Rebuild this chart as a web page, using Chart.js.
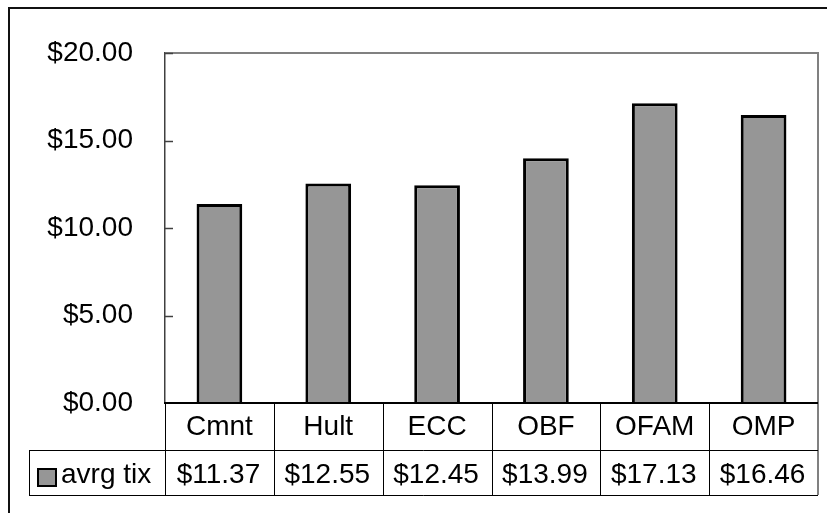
<!DOCTYPE html>
<html>
<head>
<meta charset="utf-8">
<script src="https://cdn.jsdelivr.net/npm/chart.js@4.4.1/dist/chart.umd.min.js"></script>
<style>
  html, body { margin: 0; padding: 0; background: #fff; }
  #wrap { width: 827px; height: 513px; }
</style>
</head>
<body>
<div id="wrap"><canvas id="c" width="827" height="513"></canvas></div>
<script>
const categories = ['Cmnt', 'Hult', 'ECC', 'OBF', 'OFAM', 'OMP'];
const seriesName = 'avrg tix';
const avrgTix = [11.37, 12.55, 12.45, 13.99, 17.13, 16.46];
const yTicks = [0, 5, 10, 15, 20];

const FONT = 'Liberation Sans, Arial, sans-serif';
const FSIZE = 28;
const money = v => '$' + Number(v).toFixed(2);

const frame = {
  id: 'frame',
  beforeDraw(chart) {
    const ctx = chart.ctx;
    ctx.save();
    ctx.fillStyle = '#fff';
    ctx.fillRect(0, 0, chart.width, chart.height);
    ctx.strokeStyle = '#111';
    ctx.lineWidth = 2;
    ctx.beginPath();
    ctx.moveTo(9, chart.height);
    ctx.lineTo(9, 8);
    ctx.lineTo(chart.width, 8);
    ctx.stroke();
    ctx.restore();
  },
  afterDraw(chart) {
    const ctx = chart.ctx;
    const a = chart.chartArea;
    const xs = chart.scales.x, ys = chart.scales.y;
    const n = categories.length;
    const colW = (a.right - a.left) / n;
    const rowTop = a.bottom;
    const rowMid = rowTop + 47;
    const rowBot = rowTop + 92;
    ctx.save();
    // plot border top/right
    ctx.strokeStyle = '#808080';
    ctx.lineWidth = 2;
    ctx.beginPath();
    ctx.moveTo(a.left, a.top);
    ctx.lineTo(a.right, a.top);
    ctx.lineTo(a.right, rowBot);
    ctx.stroke();
    // inside ticks on y axis
    ctx.strokeStyle = '#404040';
    ctx.lineWidth = 1.5;
    ys.ticks.forEach(t => {
      const py = Math.round(ys.getPixelForValue(t.value)) + 0.5;
      if (t.value === 0) return;
      ctx.beginPath();
      ctx.moveTo(a.left, py);
      ctx.lineTo(a.left + 8, py);
      ctx.stroke();
    });
    // data table grid
    ctx.strokeStyle = '#000';
    ctx.lineWidth = 1;
    ctx.beginPath();
    for (let i = 0; i < n; i++) {
      const bx = Math.round(a.left + i * colW) + 0.5;
      ctx.moveTo(bx, rowTop);
      ctx.lineTo(bx, rowBot);
    }
    ctx.moveTo(29.5, rowMid + 0.5);
    ctx.lineTo(a.right, rowMid + 0.5);
    ctx.moveTo(29.5, rowBot + 0.5);
    ctx.lineTo(a.right, rowBot + 0.5);
    ctx.moveTo(29.5, rowMid);
    ctx.lineTo(29.5, rowBot + 1);
    ctx.stroke();
    // x axis line
    ctx.strokeStyle = '#000';
    ctx.lineWidth = 2;
    ctx.beginPath();
    ctx.moveTo(a.left - 1, a.bottom);
    ctx.lineTo(a.right, a.bottom);
    ctx.stroke();
    // legend key
    ctx.fillStyle = '#969696';
    ctx.fillRect(38, rowMid + 19, 18, 17);
    ctx.strokeStyle = '#000';
    ctx.lineWidth = 2;
    ctx.strokeRect(38, rowMid + 19, 18, 17);
    // texts
    ctx.fillStyle = '#000';
    ctx.font = FSIZE + 'px ' + FONT;
    ctx.textBaseline = 'middle';
    ctx.textAlign = 'left';
    const vMid = (rowMid + rowBot) / 2 + 2.5;
    ctx.fillText(seriesName, 61, vMid);
    ctx.textAlign = 'center';
    avrgTix.forEach((v, i) => {
      ctx.fillText(money(v), xs.getPixelForValue(i) - 1, vMid);
    });
    ctx.restore();
  }
};

new Chart(document.getElementById('c'), {
  type: 'bar',
  data: {
    labels: categories,
    datasets: [{
      label: seriesName,
      data: avrgTix,
      backgroundColor: '#969696',
      borderColor: '#000',
      borderWidth: 3,
      borderSkipped: 'bottom',
      categoryPercentage: 1,
      barPercentage: 0.42
    }]
  },
  options: {
    responsive: false,
    animation: false,
    events: [],
    layout: { padding: { top: 53, right: 9, left: 0, bottom: 0 } },
    plugins: { legend: { display: false }, tooltip: { enabled: false } },
    scales: {
      x: {
        grid: { display: true, drawOnChartArea: false, drawTicks: false },
        border: { display: false },
        ticks: {
          color: '#000', font: { family: FONT, size: FSIZE, lineHeight: 1.2 },
          padding: 7, maxRotation: 0, minRotation: 0, autoSkip: false
        },
        afterFit(s) { s.height = 110; }
      },
      y: {
        min: 0, max: 20,
        afterBuildTicks(s) { s.ticks = yTicks.map(v => ({ value: v })); },
        grid: { display: true, drawOnChartArea: false, drawTicks: false },
        border: { display: true, color: '#404040', width: 1.5 },
        ticks: {
          color: '#000', font: { family: FONT, size: FSIZE },
          padding: 32, callback: v => money(v)
        },
        afterFit(s) { s.width = 165; }
      }
    }
  },
  plugins: [frame]
});
</script>
</body>
</html>
